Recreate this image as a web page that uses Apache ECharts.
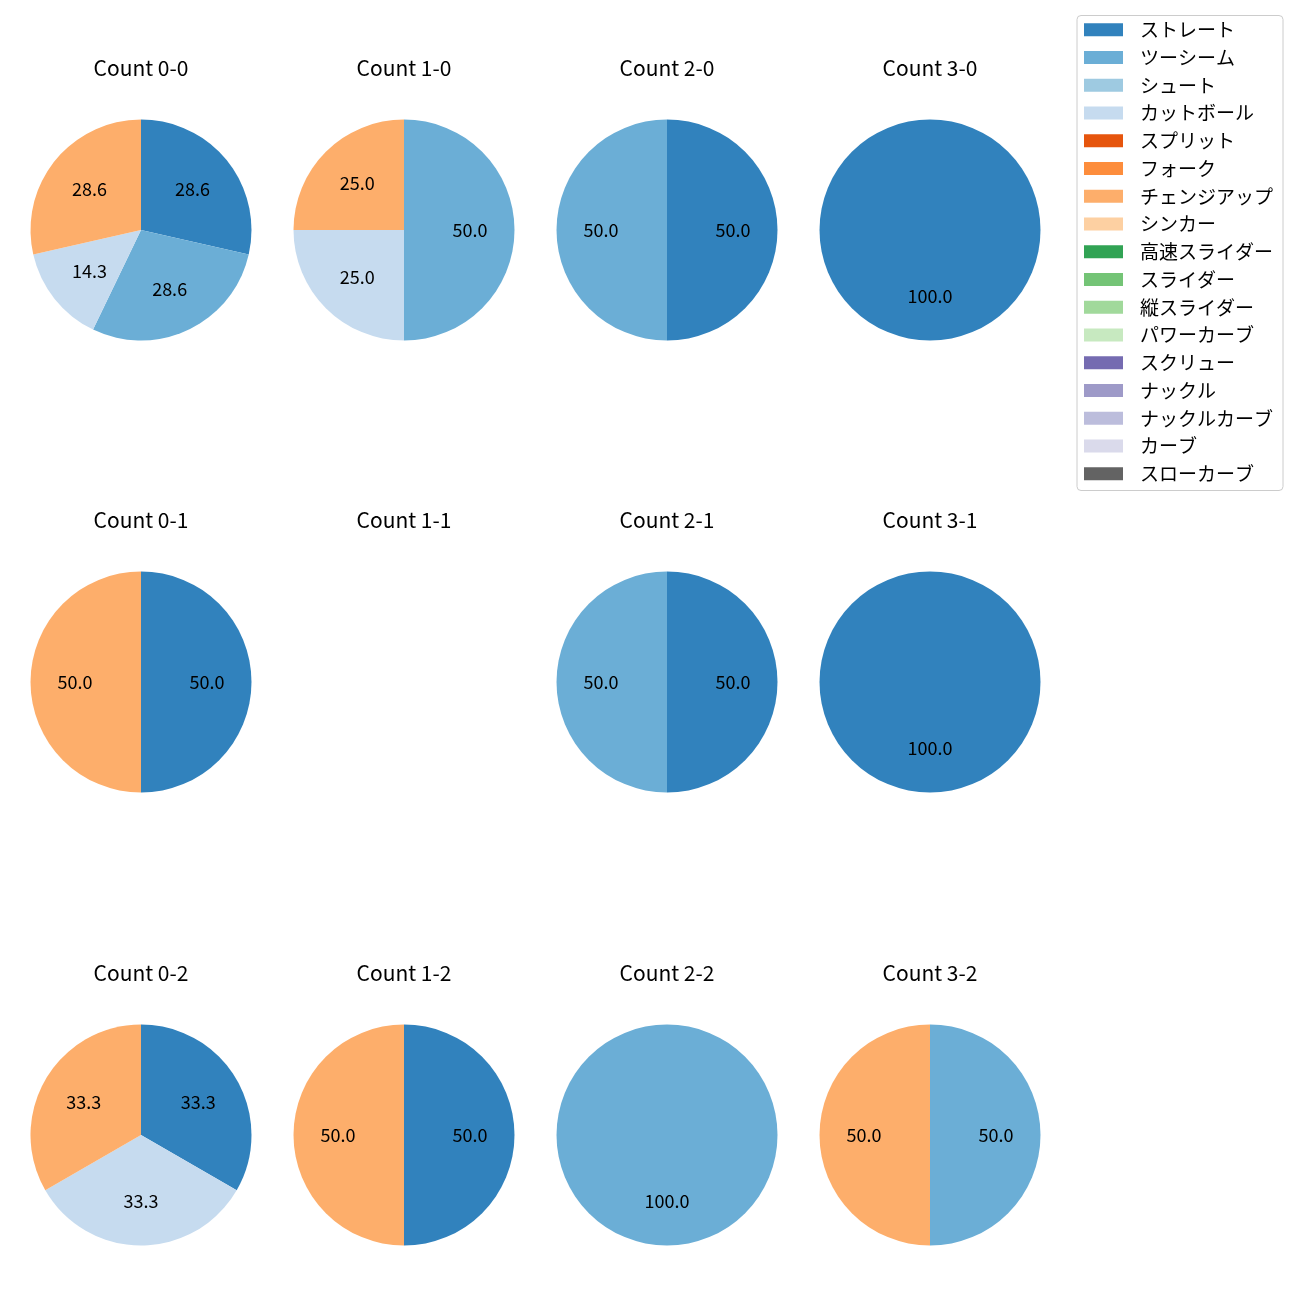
<!DOCTYPE html>
<html><head><meta charset="utf-8">
<script src="https://cdn.jsdelivr.net/npm/echarts@6/dist/echarts.min.js"></script>
<style>html,body{margin:0;padding:0;background:#fff}#c{width:1300px;height:1300px}</style>
</head><body><div id="c"></div>
<script>
const pitchTypes = ['ストレート','ツーシーム','シュート','カットボール','スプリット','フォーク','チェンジアップ','シンカー','高速スライダー','スライダー','縦スライダー','パワーカーブ','スクリュー','ナックル','ナックルカーブ','カーブ','スローカーブ'];
const pitchColors = ['#3182bd','#6baed6','#9ecae1','#c6dbef','#e6550d','#fd8d3c','#fdae6b','#fdd0a2','#31a354','#74c476','#a1d99b','#c7e9c0','#756bb1','#9e9ac8','#bcbddc','#dadaeb','#636363'];
// counts per pitch type (order of pitchTypes) for each ball-strike count
const count_0_0 = [2,2,0,1,0,0,2,0,0,0,0,0,0,0,0,0,0];
const count_1_0 = [0,2,0,1,0,0,1,0,0,0,0,0,0,0,0,0,0];
const count_2_0 = [1,1,0,0,0,0,0,0,0,0,0,0,0,0,0,0,0];
const count_3_0 = [1,0,0,0,0,0,0,0,0,0,0,0,0,0,0,0,0];
const count_0_1 = [1,0,0,0,0,0,1,0,0,0,0,0,0,0,0,0,0];
const count_1_1 = [0,0,0,0,0,0,0,0,0,0,0,0,0,0,0,0,0];
const count_2_1 = [1,1,0,0,0,0,0,0,0,0,0,0,0,0,0,0,0];
const count_3_1 = [1,0,0,0,0,0,0,0,0,0,0,0,0,0,0,0,0];
const count_0_2 = [1,0,0,1,0,0,1,0,0,0,0,0,0,0,0,0,0];
const count_1_2 = [1,0,0,0,0,0,1,0,0,0,0,0,0,0,0,0,0];
const count_2_2 = [0,1,0,0,0,0,0,0,0,0,0,0,0,0,0,0,0];
const count_3_2 = [0,1,0,0,0,0,1,0,0,0,0,0,0,0,0,0,0];
const panels = [
  {title:'Count 0-0', data:count_0_0, col:0, row:0},
  {title:'Count 1-0', data:count_1_0, col:1, row:0},
  {title:'Count 2-0', data:count_2_0, col:2, row:0},
  {title:'Count 3-0', data:count_3_0, col:3, row:0},
  {title:'Count 0-1', data:count_0_1, col:0, row:1},
  {title:'Count 1-1', data:count_1_1, col:1, row:1},
  {title:'Count 2-1', data:count_2_1, col:2, row:1},
  {title:'Count 3-1', data:count_3_1, col:3, row:1},
  {title:'Count 0-2', data:count_0_2, col:0, row:2},
  {title:'Count 1-2', data:count_1_2, col:1, row:2},
  {title:'Count 2-2', data:count_2_2, col:2, row:2},
  {title:'Count 3-2', data:count_3_2, col:3, row:2}
];

const FONT = '"Noto Sans CJK JP", "Noto Sans", sans-serif';
const colX = [141, 404, 667, 930];
const rowY = [230, 682, 1135];
const R = 110.5;

const series = [];
// legend carrier (not visible)
series.push({
  type:'pie', center:[-500,-500], radius:1, silent:true, label:{show:false}, labelLine:{show:false},
  data: pitchTypes.map((n,i)=>({name:n, value:1, itemStyle:{color:pitchColors[i]}}))
});
const titles = [];
panels.forEach(p=>{
  const cx = colX[p.col], cy = rowY[p.row];
  titles.push({text:p.title, left:cx, top:cy-162, textAlign:'center', textVerticalAlign:'middle', padding:0,
    textStyle:{fontFamily:FONT, fontSize:21, fontWeight:'normal', color:'#000'}});
  const d = [];
  p.data.forEach((v,i)=>{ if(v>0) d.push({name:pitchTypes[i], value:v, itemStyle:{color:pitchColors[i]}}); });
  if(!d.length) return;
  series.push({
    type:'pie', center:[cx,cy], radius:[0,R], startAngle:90, clockwise:true, silent:true,
    avoidLabelOverlap:false, label:{show:false}, labelLine:{show:false},
    itemStyle:{borderWidth:0}, emphasis:{disabled:true}, animation:false, data:d
  });
  series.push({
    type:'pie', center:[cx,cy], radius:[R*0.14,R], startAngle:90, clockwise:true, silent:true,
    avoidLabelOverlap:false, labelLine:{show:false}, emphasis:{disabled:true}, animation:false,
    itemStyle:{color:'rgba(0,0,0,0)', borderWidth:0},
    label:{show:true, position:'inside', fontFamily:FONT, fontSize:18, color:'#000',
      formatter:(q)=>q.percent.toFixed(1)},
    data:d.map(x=>({name:x.name, value:x.value}))
  });
});

const chart = echarts.init(document.getElementById('c'));
chart.setOption({
  backgroundColor:'#fff',
  animation:false,
  title:titles,
  legend:{
    orient:'vertical', left:1084, top:20.3, padding:0, itemWidth:39, itemHeight:13, itemGap:8.75,
    icon:'rect', data:pitchTypes, selectedMode:false,
    textStyle:{fontFamily:FONT, fontSize:19, color:'#000', lineHeight:13, padding:[0,0,0,12]}
  },
  graphic:[{type:'rect', shape:{x:1077,y:15.5,width:206,height:475,r:4}, z:-1,
    style:{fill:'#fff', stroke:'#cccccc', lineWidth:1}}],
  series:series
});
</script></body></html>
